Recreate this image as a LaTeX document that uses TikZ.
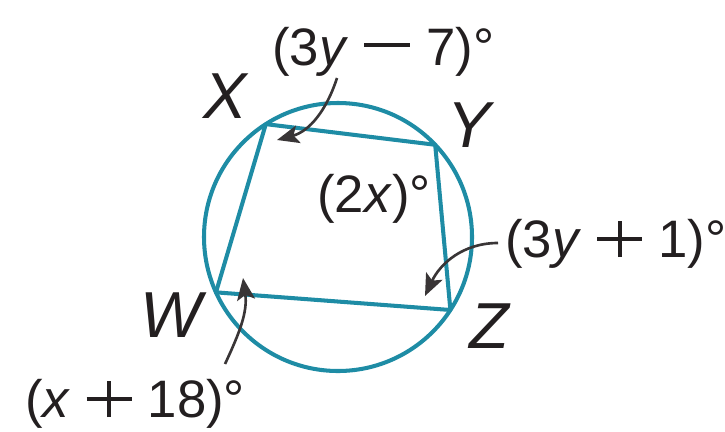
\documentclass[tikz,border=0pt]{standalone}
\usepackage{fontspec}
\setmainfont{Liberation Sans}
\usetikzlibrary{positioning,calc,arrows.meta}
\definecolor{lingkar}{RGB}{30,140,165}
\definecolor{tinta}{RGB}{35,31,32}
\newcommand{\sela}{\hspace{0.3em}}
\newcommand{\kurang}{\rule[0.34em]{0.88em}{0.07em}}
\newcommand{\tambah}{\rlap{\rule[0.31em]{0.86em}{0.07em}}\hspace{0.395em}\rule{0.07em}{0.69em}\hspace{0.395em}}

\begin{document}
\begin{tikzpicture}[
		garis/.style={draw=lingkar, line width=2.3pt, line join=round},
		sudut/.style={text=tinta, font=\fontsize{30}{34}\selectfont, inner sep=0pt, anchor=base west},
		titik/.style={text=tinta, font=\fontsize{37}{40}\selectfont\itshape, inner sep=0pt, anchor=base west},
		panah/.style={draw=tinta!90, line width=1.5pt, -{Stealth[length=0.44cm,width=0.36cm,inset=0.1cm]}}
	]
	\useasboundingbox (0,0) rectangle (14.5,8.62);
	\coordinate (O) at (6.76,3.88);
	\coordinate (X) at ($(O)+(122.6:2.68)$);
	\coordinate (Y) at ($(O)+(43.5:2.68)$);
	\coordinate (Z) at ($(O)+(-33:2.68)$);
	\coordinate (W) at ($(O)+(204.4:2.68)$);
	\draw[garis] (O) circle (2.68);
	\draw[garis] (X) -- (Y) -- (Z) -- (W) -- cycle;

	\node[titik] (lX) at (4.06,6.26) {X};
	\node[titik] (lY) at (8.94,5.68) {Y};
	\node[titik] (lZ) at (9.38,1.66) {Z};
	\node[titik] (lW) at (2.80,1.88) {W};

	\node[sudut] (a1) at (5.44,7.32) {(3\textit{y}\sela\kurang\sela7)°};
	\node[sudut] (a2) at (6.34,4.38) {(2\textit{x})°};
	\node[sudut] (a3) at (10.10,3.48) {(3\textit{y}\sela\tambah\sela1)°};
	\node[sudut] (a4) at (0.50,0.28) {(\textit{x}\sela\tambah\sela18)°};

	\coordinate (t1) at (5.54,5.82);
	\coordinate (t3) at (8.50,2.70);
	\coordinate (t4) at (4.86,3.06);
	\draw[panah] ($(a1.base west)+(1.30,-0.26)$) to[out=-108,in=15] (t1);
	\draw[panah] ($(a3.base west)+(-0.14,0.28)$) to[out=180,in=65] (t3);
	\draw[panah] ($(a4.base west)+(4.0,1.06)$) to[out=65,in=-82] (t4);
\end{tikzpicture}
\end{document}
